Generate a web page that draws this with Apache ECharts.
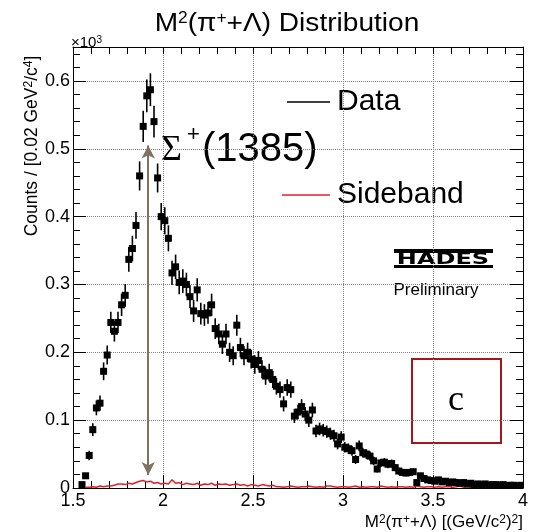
<!DOCTYPE html>
<html>
<head>
<meta charset="utf-8">
<script src="https://cdn.jsdelivr.net/npm/echarts@6.0.0/dist/echarts.min.js"></script>
<style>
  html, body { margin: 0; padding: 0; background: #fff; }
  #chart { width: 533px; height: 532px; }
</style>
</head>
<body>
<div id="chart"></div>
<script>
// histogram bins are 0.02 GeV^2/c^4 wide, counts in units of 10^3
const binWidth = 0.02;

const dataStart = 1.55; // centre of first filled bin
const dataCounts = [
  0.005, 0.018, 0.048, 0.086, 0.118, 0.125, 0.172, 0.196, 0.244, 0.231,
  0.244, 0.270, 0.284, 0.337, 0.353, 0.387, 0.460, 0.533, 0.578, 0.587,
  0.540, 0.457, 0.400, 0.394, 0.368, 0.317, 0.326, 0.303, 0.305, 0.300,
  0.282, 0.261, 0.292, 0.257, 0.255, 0.258, 0.270, 0.235, 0.227, 0.212,
  0.227, 0.200, 0.195, 0.240, 0.207, 0.195, 0.200, 0.190, 0.182, 0.188,
  0.175, 0.165, 0.170, 0.160, 0.150, 0.145, 0.124, 0.148, 0.145, 0.106,
  0.112, 0.120, 0.109, 0.100, 0.115, 0.084, 0.087, 0.085, 0.083, 0.080,
  0.077, 0.065, 0.075, 0.060, 0.058, 0.055, 0.042, 0.062, 0.052, 0.050,
  0.047, 0.040, 0.028, 0.037, 0.038, 0.035, 0.036, 0.030, 0.025, 0.023,
  0.022, 0.023, 0.024, 0.008, 0.018, 0.014, 0.012, 0.011, 0.010, 0.012,
  0.009, 0.010, 0.008, 0.009, 0.008, 0.007, 0.008, 0.006, 0.007, 0.005,
  0.006, 0.005, 0.006, 0.004, 0.005, 0.005, 0.004, 0.005, 0.003, 0.004,
  0.004, 0.003, 0.004
];

const sidebandStart = 1.57;
const sidebandCounts = [
  0.001, 0.001, 0.002, 0.001, 0.003, 0.002, 0.003, 0.003, 0.004, 0.006,
  0.006, 0.005, 0.007, 0.006, 0.008, 0.010, 0.011, 0.009, 0.010, 0.007,
  0.008, 0.006, 0.007, 0.006, 0.012, 0.007, 0.008, 0.005, 0.007, 0.006,
  0.005, 0.007, 0.004, 0.006, 0.005, 0.007, 0.004, 0.006, 0.005, 0.006,
  0.004, 0.005, 0.006, 0.004, 0.005, 0.003, 0.005, 0.004, 0.003, 0.005,
  0.004, 0.003, 0.004, 0.002, 0.002, 0.001, 0.002, 0.003, 0.002, 0.001,
  0.002, 0.002, 0.003, 0.002, 0.001, 0.002, 0.001, 0.003, 0.003, 0.002,
  0.001, 0.002, 0.002, 0.001, 0.002, 0.003, 0.001, 0.002, 0.001, 0.002,
  0.002, 0.001, 0.003, 0.002, 0.001, 0.002, 0.001, 0.002, 0.002, 0.001,
  0.002, 0.001, 0.003, 0.002, 0.001, 0.002, 0.002, 0.001, 0.002, 0.001,
  0.002, 0.002, 0.001, 0.002, 0.003, 0.001, 0.002, 0.001, 0.002, 0.002,
  0.001, 0.002, 0.001, 0.002, 0.002, 0.001, 0.002, 0.001, 0.002, 0.002,
  0.001, 0.002
];

// Sigma(1385) marker: M^2 = 1.385^2, arrow from 0.505 down to 0.019
const sigmaMass2 = 1.918;
const arrowRange = [0.505, 0.019];

const FONT = 'Liberation Sans, Arial, sans-serif';

const dataPoints = dataCounts.map((v, i) => {
  const x = +(dataStart + i * binWidth).toFixed(3);
  const err = Math.sqrt(v * 1000) / 1000; // poisson
  return [x, v, err];
});
const sidebandPoints = sidebandCounts.map((v, i) => [+(sidebandStart + i * binWidth).toFixed(3), v]);

const chart = echarts.init(document.getElementById('chart'), null, { renderer: 'canvas' });

const tickStyle = { color: '#000', width: 1 };
const gridStyle = () => ({ color: '#808080', type: 'dotted', width: 1 });

// small raised text for the superscripts
const supRich = (size) => ({ sup: { fontSize: size, fontFamily: FONT, verticalAlign: 'top' } });

const option = {
  animation: false,
  backgroundColor: '#fff',
  textStyle: { fontFamily: FONT },
  grid: { left: 73, right: 10, top: 47, bottom: 44, outerBoundsMode: 'none', containLabel: false },
  xAxis: [
    {
      type: 'value', min: 1.5, max: 4, interval: 0.5,
      axisLine: { show: true, onZero: false, lineStyle: tickStyle },
      axisTick: { show: true, inside: true, length: 13, lineStyle: tickStyle },
      minorTick: { show: true, splitNumber: 5, length: 7, lineStyle: tickStyle },
      axisLabel: { color: '#000', fontSize: 18, fontFamily: FONT, margin: 4 },
      splitLine: { show: true, lineStyle: gridStyle() },
      minorSplitLine: { show: false }
    },
    {
      type: 'value', position: 'top', min: 1.5, max: 4, interval: 0.5,
      axisLine: { show: true, onZero: false, lineStyle: tickStyle },
      axisTick: { show: true, inside: true, length: 7, lineStyle: tickStyle },
      minorTick: { show: true, splitNumber: 5, length: 7, lineStyle: tickStyle },
      axisLabel: { show: false },
      splitLine: { show: false }
    }
  ],
  yAxis: [
    {
      type: 'value', min: 0, max: 0.65, interval: 0.1,
      axisLine: { show: true, onZero: false, lineStyle: tickStyle },
      axisTick: { show: true, inside: true, length: 13, lineStyle: tickStyle },
      minorTick: { show: true, splitNumber: 5, length: 7, lineStyle: tickStyle },
      axisLabel: {
        color: '#000', fontSize: 18, fontFamily: FONT, margin: 3,
        showMaxLabel: false,
        formatter: (v) => (v === 0 ? '0' : v.toFixed(1))
      },
      splitLine: { show: true, lineStyle: gridStyle() },
      minorSplitLine: { show: false }
    },
    {
      type: 'value', position: 'right', min: 0, max: 0.65, interval: 0.1,
      axisLine: { show: true, onZero: false, lineStyle: tickStyle },
      axisTick: { show: true, inside: true, length: 13, lineStyle: tickStyle },
      minorTick: { show: true, splitNumber: 5, length: 7, lineStyle: tickStyle },
      axisLabel: { show: false },
      splitLine: { show: false }
    }
  ],
  series: [
    {
      name: 'Sideband',
      type: 'line',
      data: sidebandPoints,
      showSymbol: false,
      lineStyle: { color: '#e3202a', width: 1.5 },
      itemStyle: { color: '#e3202a' },
      z: 3,
      markLine: {
        silent: true,
        symbol: ['arrow', 'arrow'],
        symbolSize: [10, 13],
        label: { show: false },
        lineStyle: { color: '#7e7360', width: 2, type: 'solid' },
        emphasis: { disabled: true },
        data: [[{ coord: [sigmaMass2, arrowRange[0]] }, { coord: [sigmaMass2, arrowRange[1]] }]]
      }
    },
    {
      name: 'Data',
      type: 'custom',
      data: dataPoints,
      clip: true,
      z: 4,
      renderItem: (params, api) => {
        const x = api.value(0), y = api.value(1), e = api.value(2);
        const c = api.coord([x, y]);
        const lo = api.coord([x, y - e]);
        const hi = api.coord([x, y + e]);
        const s = 7;
        return {
          type: 'group',
          children: [
            { type: 'line', shape: { x1: c[0], y1: lo[1], x2: c[0], y2: hi[1] }, style: { stroke: '#000', lineWidth: 1.6 } },
            { type: 'rect', shape: { x: c[0] - s / 2, y: c[1] - s / 2, width: s, height: s }, style: { fill: '#000' } }
          ]
        };
      }
    }
  ],
  graphic: [
    { type: 'text', x: 287, y: 24, scaleX: 1.08, style: { text: 'M{sup|2}(π{sup|+}+Λ) Distribution', font: '26px ' + FONT, fill: '#000', textAlign: 'center', textVerticalAlign: 'middle', rich: supRich(16) } },
    { type: 'text', x: 71, y: 43, style: { text: '×10{sup|3}', font: '15px ' + FONT, fill: '#000', textAlign: 'left', textVerticalAlign: 'middle', rich: supRich(10) } },
    { type: 'text', x: 32, y: 146, rotation: Math.PI / 2, style: { text: 'Counts / [0.02 GeV{sup|2}/c{sup|4}]', font: '17.5px ' + FONT, fill: '#000', textAlign: 'center', textVerticalAlign: 'middle', rich: supRich(12) } },
    { type: 'text', x: 523, y: 522, style: { text: 'M{sup|2}(π{sup|+}+Λ) [(GeV/c{sup|2}){sup|2}]', font: '17px ' + FONT, fill: '#000', textAlign: 'right', textVerticalAlign: 'middle', rich: supRich(12) } },

    // legend
    { type: 'line', shape: { x1: 287, y1: 102, x2: 330, y2: 102 }, style: { stroke: '#000', lineWidth: 1.5 } },
    { type: 'text', x: 337, y: 102, style: { text: 'Data', font: '30px ' + FONT, fill: '#000', textAlign: 'left', textVerticalAlign: 'middle' } },
    { type: 'line', shape: { x1: 282, y1: 195, x2: 330, y2: 195 }, style: { stroke: '#e3202a', lineWidth: 1.5 } },
    { type: 'text', x: 337, y: 195, style: { text: 'Sideband', font: '30px ' + FONT, fill: '#000', textAlign: 'left', textVerticalAlign: 'middle' } },

    // Sigma(1385) label
    { type: 'text', x: 161, y: 151, style: { text: 'Σ', font: '36px Liberation Serif, serif', fill: '#000', textAlign: 'left', textVerticalAlign: 'middle' } },
    { type: 'text', x: 187, y: 135, style: { text: '+', font: '22px ' + FONT, fill: '#000', textAlign: 'left', textVerticalAlign: 'middle' } },
    { type: 'text', x: 202, y: 150, style: { text: '(1385)', font: '40px ' + FONT, fill: '#000', textAlign: 'left', textVerticalAlign: 'middle' } },

    // HADES logo
    { type: 'rect', shape: { x: 394, y: 249, width: 99, height: 4 }, style: { fill: '#000' } },
    { type: 'text', x: 443, y: 259.5, scaleX: 1.5, style: { text: 'HADES', font: 'bold 16px DejaVu Sans, sans-serif', fill: '#000', textAlign: 'center', textVerticalAlign: 'middle' } },
    { type: 'rect', shape: { x: 394, y: 265, width: 99, height: 3 }, style: { fill: '#000' } },
    { type: 'text', x: 436, y: 290, style: { text: 'Preliminary', font: '17px ' + FONT, fill: '#000', textAlign: 'center', textVerticalAlign: 'middle' } },

    // panel label box
    { type: 'rect', shape: { x: 412, y: 359, width: 89, height: 84 }, style: { fill: 'none', stroke: '#a3161c', lineWidth: 2 } },
    { type: 'text', x: 456, y: 401, style: { text: 'c', font: '36px Liberation Serif, serif', fill: '#000', textAlign: 'center', textVerticalAlign: 'middle' } }
  ]
};

chart.setOption(option);
</script>
</body>
</html>
